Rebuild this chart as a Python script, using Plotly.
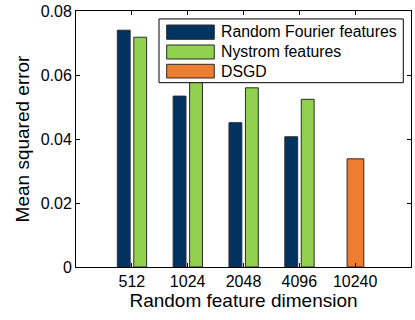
import plotly.graph_objects as go

categories = ["512", "1024", "2048", "4096", "10240"]
series_names = ["Random Fourier features", "Nystrom features", "DSGD"]
rff = [0.0740, 0.0534, 0.0451, 0.0407, None]
nystrom = [0.0718, 0.0630, 0.0560, 0.0524, None]
dsgd = [None, None, None, None, 0.0338]
y_ticks = [0, 0.02, 0.04, 0.06, 0.08]
y_ticklabels = ["0", "0.02", "0.04", "0.06", "0.08"]

colors = ["#00335f", "#92d050", "#ed7d31"]
edge = dict(color="#2b2b2b", width=1)
FONT = "Liberation Sans, Arial, Helvetica, sans-serif"

fig = go.Figure()
fig.add_trace(go.Bar(x=categories, y=rff, name=series_names[0], marker=dict(color=colors[0], line=edge),
                     offset=-0.26, width=0.23))
fig.add_trace(go.Bar(x=categories, y=nystrom, name=series_names[1], marker=dict(color=colors[1], line=edge),
                     offset=0.035, width=0.23))
fig.add_trace(go.Bar(x=categories, y=dsgd, name=series_names[2], marker=dict(color=colors[2], line=edge),
                     offset=-0.145, width=0.30))

# manual legend (MATLAB-style wide swatches)
shapes = [dict(type="rect", xref="paper", yref="paper", x0=0.2478, x1=0.977, y0=0.72, y1=0.969,
               fillcolor="white", line=dict(color="black", width=1), layer="above")]
rows = [(0.8895, 0.9453, 0.918), (0.8125, 0.8672, 0.840), (0.7383, 0.7918, 0.7656)]
annotations = []
for (y0, y1, yc), name, c in zip(rows, series_names, colors):
    shapes.append(dict(type="rect", xref="paper", yref="paper", x0=0.2707, x1=0.4128, y0=y0, y1=y1,
                       fillcolor=c, line=dict(color="#2b2b2b", width=1), layer="above"))
    annotations.append(dict(xref="paper", yref="paper", x=0.428, y=yc, xanchor="left", yanchor="middle",
                            text=name, showarrow=False, font=dict(family=FONT, size=15.8, color="black")))

fig.update_layout(
    width=415, height=320,
    margin=dict(l=76, r=4, t=11, b=53),
    barmode="overlay",
    plot_bgcolor="white", paper_bgcolor="white",
    showlegend=False,
    font=dict(family=FONT, size=16, color="black"),
    shapes=shapes, annotations=annotations,
    xaxis=dict(type="category", categoryorder="array", categoryarray=categories, range=[-1, 5],
               showline=True, linecolor="black", linewidth=1, mirror="ticks",
               ticks="inside", ticklen=4, tickcolor="black", showgrid=False,
               tickfont=dict(size=16), automargin=False,
               title=dict(text="Random feature dimension", font=dict(size=19), standoff=2)),
    yaxis=dict(range=[0, 0.08], tickvals=y_ticks, ticktext=y_ticklabels,
               showline=True, linecolor="black", linewidth=1, mirror="ticks",
               ticks="inside", ticklen=4, tickcolor="black", showgrid=False, zeroline=False,
               tickfont=dict(size=16), automargin=False,
               title=dict(text="Mean squared error", font=dict(size=19), standoff=6)),
)

fig.write_html("out.html", config={"displayModeBar": False},
               post_script="document.body.style.margin='0';document.body.style.padding='0';"
                           "document.body.style.overflow='hidden';")
